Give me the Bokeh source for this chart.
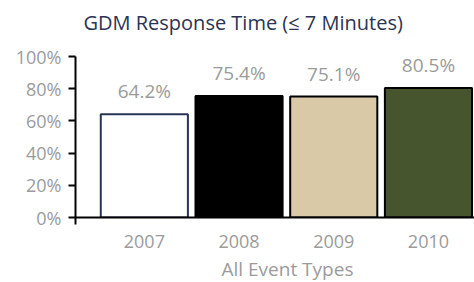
from bokeh.plotting import figure
from bokeh.models import Range1d, FixedTicker, Title
from bokeh.core.properties import value
from bokeh.embed import file_html
from bokeh.resources import INLINE

years = ["2007", "2008", "2009", "2010"]
pct = [64.2, 75.4, 75.1, 80.5]
pct_labels = ["64.2%", "75.4%", "75.1%", "80.5%"]
fills = ["#ffffff", "#000000", "#d9c9a6", "#47552f"]
outlines = ["#2a3456", "#000000", "#000000", "#000000"]
y_ticks = [0, 20, 40, 60, 80, 100]
y_tick_labels = ["0%", "20%", "40%", "60%", "80%", "100%"]

xpos = list(range(len(years)))
FONT = "Open Sans"
GRAY = "#9b9b9b"

x_start = -0.727
p = figure(frame_width=399, frame_height=161,
           min_border_left=75, min_border_right=0, min_border_top=56, min_border_bottom=65,
           x_range=Range1d(x_start, x_start + 399 / 94.7), y_range=Range1d(0, 100),
           output_backend="svg", toolbar_location=None)
p.outline_line_color = None
p.xgrid.visible = False
p.ygrid.visible = False
p.background_fill_color = "white"

# spacer (closest to the frame) then the main title
p.add_layout(Title(text=" ", text_font_size="1px", standoff=13), "above")
p.add_layout(Title(text="GDM Response Time (\u2264 7 Minutes)", align="left", offset=8,
                   standoff=10, text_font=FONT, text_font_style="normal",
                   text_font_size="20px", text_color="#2b3452"), "above")

p.vbar(x=xpos, top=pct, width=0.92, bottom=0, fill_color=fills,
       line_color=outlines, line_width=2)

p.text(x=xpos, y=pct, text=pct_labels, text_align="center", text_baseline="bottom",
       y_offset=-10, text_font=value(FONT), text_font_size="19px", text_color=GRAY)

ya = p.yaxis[0]
ya.ticker = FixedTicker(ticks=y_ticks)
ya.major_label_overrides = {t: l for t, l in zip(y_ticks, y_tick_labels)}
ya.minor_tick_line_color = None
ya.major_tick_in = 0
ya.major_tick_out = 7
ya.major_tick_line_width = 2
ya.axis_line_width = 2
ya.major_label_text_font = FONT
ya.major_label_text_font_size = "18px"
ya.major_label_text_color = GRAY
ya.major_label_standoff = 7

xa = p.xaxis[0]
xa.ticker = FixedTicker(ticks=xpos, minor_ticks=[x_start])
xa.major_label_overrides = {i: y for i, y in zip(xpos, years)}
xa.major_tick_in = 0
xa.major_tick_out = 0
xa.minor_tick_in = 0
xa.minor_tick_out = 7
xa.minor_tick_line_width = 2
xa.axis_line_width = 2
xa.major_label_text_font = FONT
xa.major_label_text_font_size = "18px"
xa.major_label_text_color = GRAY
xa.major_label_standoff = 10

p.add_layout(Title(text="All Event Types", align="left", offset=146, standoff=6,
                   text_font=FONT, text_font_style="normal", text_font_size="19px",
                   text_color=GRAY), "below")

open("out.html", "w").write(file_html(p, INLINE))
